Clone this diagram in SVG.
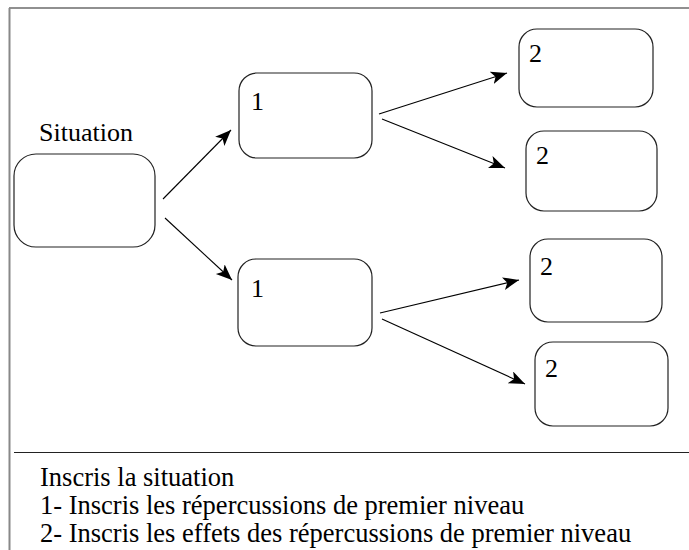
<svg xmlns="http://www.w3.org/2000/svg" width="689" height="550" viewBox="0 0 689 550">
<style>
.box{fill:#fff;stroke:#222;stroke-width:1.2}
text{font-family:'Liberation Serif','Times New Roman',Tinos,'DejaVu Serif',serif;font-size:26px;fill:#000}
.lg{font-size:26.5px}
.c{stroke:#000;stroke-width:1.1;fill:none;marker-end:url(#ah)}
</style>
<defs>
<marker id="ah" markerUnits="userSpaceOnUse" markerWidth="18" markerHeight="14" refX="16" refY="6.5" orient="auto">
<path d="M0,0 L16,6.5 L0,13 L4,6.5 z" fill="#000"/>
</marker>
</defs>
<rect width="689" height="550" fill="#fff"/>
<g id="frame">
<line x1="9" y1="8" x2="689" y2="8" stroke="#222" stroke-width="1.2"/>
<line x1="9.5" y1="8" x2="9.5" y2="550" stroke="#888" stroke-width="2"/>
<line x1="14" y1="452.5" x2="689" y2="452.5" stroke="#222" stroke-width="1.2"/>
</g>
<g id="situation">
<text x="39" y="141">Situation</text>
<rect class="box" x="14" y="154" width="141" height="93" rx="22"/>
</g>
<g id="n1a">
<rect class="box" x="239" y="73" width="133" height="85" rx="18"/>
<text x="251" y="110">1</text>
</g>
<g id="n1b">
<rect class="box" x="238" y="259" width="134" height="87" rx="18"/>
<text x="251" y="297">1</text>
</g>
<g id="n2a">
<rect class="box" x="519" y="29" width="134" height="78" rx="18"/>
<text x="529" y="62">2</text>
</g>
<g id="n2b">
<rect class="box" x="526" y="131" width="131" height="80" rx="18"/>
<text x="536" y="164">2</text>
</g>
<g id="n2c">
<rect class="box" x="530" y="239" width="132" height="83" rx="18"/>
<text x="540" y="275">2</text>
</g>
<g id="n2d">
<rect class="box" x="535" y="342" width="133" height="84" rx="18"/>
<text x="545" y="377">2</text>
</g>
<g id="connectors">
<line class="c" x1="163" y1="199" x2="231" y2="130"/>
<line class="c" x1="165" y1="218" x2="232" y2="280"/>
<line class="c" x1="379" y1="114" x2="507" y2="73"/>
<line class="c" x1="382" y1="119" x2="505" y2="168"/>
<line class="c" x1="380" y1="313" x2="519" y2="280"/>
<line class="c" x1="382" y1="319" x2="525" y2="384"/>
</g>
<g id="legend">
<text class="lg" x="40" y="486">Inscris la situation</text>
<text class="lg" x="40" y="514">1- Inscris les répercussions de premier niveau</text>
<text class="lg" x="40" y="542">2- Inscris les effets des répercussions de premier niveau</text>
</g>
</svg>
